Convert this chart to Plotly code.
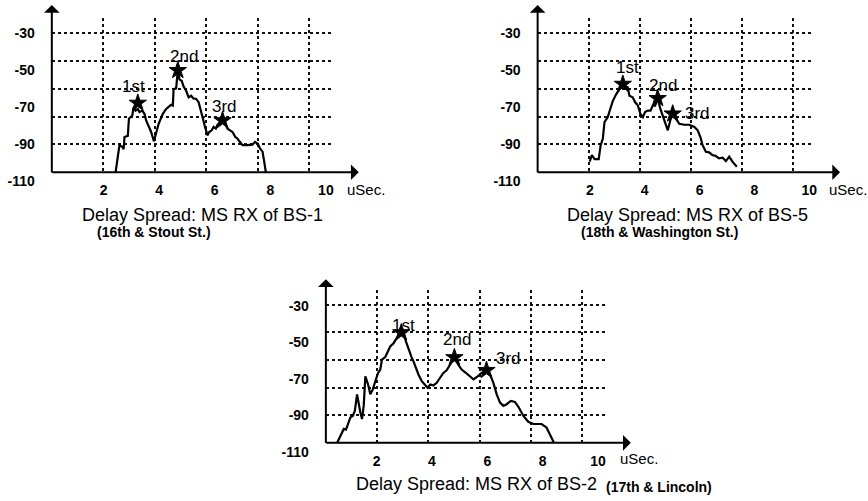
import plotly.graph_objects as go

W, H = 868, 501

# ---------------- data ----------------
x_ticks = [2, 4, 6, 8, 10]
y_ticks = [-30, -50, -70, -90, -110]
peak_names = ["1st", "2nd", "3rd"]

bs1_delay = [2.43, 2.48, 2.57, 2.67, 2.72, 2.75, 2.87, 2.91, 3.03, 3.08, 3.15, 3.23, 3.29, 3.39, 3.47,
             3.53, 3.63, 3.71, 3.81, 3.89, 3.98, 4.13, 4.25, 4.37, 4.43, 4.49, 4.52, 4.61, 4.64, 4.67,
             4.73, 4.81, 4.88, 4.97, 5.06, 5.15, 5.23, 5.33, 5.42, 5.49, 5.56, 5.65, 5.74, 5.80, 5.89,
             5.96, 6.04, 6.10, 6.19, 6.28, 6.38, 6.46, 6.55, 6.64, 6.74, 6.82, 6.90, 7.00, 7.18, 7.36,
             7.45, 7.54, 7.63, 7.72, 7.78, 7.84]
bs1_level = [-105.2, -99.5, -90.6, -91.5, -92.8, -86.2, -85.6, -76.4, -74.6, -70.2, -72.0, -71.1, -72.8,
             -72.0, -73.7, -77.3, -80.8, -83.5, -88.5, -83.5, -79.1, -73.7, -71.1, -69.6, -68.9, -69.3,
             -60.4, -60.0, -53.3, -50.3, -55.1, -56.0, -59.0, -61.3, -64.8, -64.0, -65.4, -65.7, -67.5,
             -71.1, -75.5, -80.8, -85.3, -83.5, -82.6, -80.8, -81.7, -79.6, -78.2, -77.3, -79.1, -81.7,
             -82.6, -83.5, -86.2, -87.1, -88.8, -90.6, -90.6, -90.3, -88.8, -89.7, -92.3, -94.1, -99.5,
             -105.2]
bs1_peak_delay = [3.23, 4.67, 6.28]
bs1_peak_level = [-67.9, -50.3, -77.3]

bs5_delay = [1.99, 2.07, 2.17, 2.32, 2.39, 2.47, 2.53, 2.65, 2.74, 2.84, 2.96, 3.08, 3.20, 3.28, 3.38,
             3.44, 3.56, 3.65, 3.75, 3.84, 3.93, 4.01, 4.11, 4.21, 4.29, 4.38, 4.47, 4.57, 4.65, 4.74,
             4.84, 4.93, 5.02, 5.14, 5.26, 5.44, 5.62, 5.81, 5.93, 6.03, 6.11, 6.23, 6.35, 6.47, 6.58,
             6.71, 6.84, 6.96, 7.08, 7.20, 7.36]
bs5_level = [-99.5, -96.0, -98.1, -98.1, -90.6, -87.1, -78.2, -75.5, -71.1, -66.6, -63.1, -60.0, -57.7,
             -59.0, -59.5, -64.0, -64.8, -67.5, -69.3, -73.7, -75.5, -72.8, -72.0, -72.0, -69.3, -69.3,
             -65.4, -71.1, -74.6, -77.3, -82.6, -77.3, -73.7, -76.4, -79.1, -79.6, -79.6, -80.8, -82.6,
             -86.2, -90.6, -94.2, -94.5, -96.0, -96.3, -97.7, -97.4, -99.2, -96.8, -99.5, -102.2]
bs5_peak_delay = [3.20, 4.47, 5.02]
bs5_peak_level = [-57.7, -65.4, -73.7]

bs2_delay = [0.57, 0.69, 0.81, 0.89, 0.97, 1.05, 1.14, 1.21, 1.29, 1.35, 1.41, 1.47, 1.53, 1.59, 1.69,
             1.77, 1.86, 1.95, 2.05, 2.13, 2.19, 2.31, 2.41, 2.49, 2.61, 2.73, 2.82, 2.89, 2.97, 3.06,
             3.15, 3.25, 3.33, 3.42, 3.51, 3.63, 3.75, 3.84, 3.94, 4.05, 4.17, 4.30, 4.41, 4.53, 4.66,
             4.81, 4.95, 5.07, 5.20, 5.34, 5.50, 5.65, 5.79, 5.98, 6.10, 6.22, 6.34, 6.46, 6.58, 6.70,
             6.85, 7.00, 7.14, 7.30, 7.48, 7.66, 7.96, 8.14, 8.26, 8.41]
bs2_level = [-104.9, -101.0, -97.3, -97.7, -93.8, -91.0, -90.1, -87.4, -78.4, -84.7, -88.3, -91.9, -84.7,
             -68.5, -73.0, -78.4, -75.7, -71.2, -66.7, -64.8, -59.4, -58.0, -54.9, -52.2, -50.4, -47.7,
             -45.3, -44.6, -45.0, -49.5, -54.0, -57.6, -60.3, -64.0, -67.5, -71.2, -73.5, -74.8, -73.0,
             -73.5, -72.1, -69.4, -66.7, -65.2, -62.1, -58.2, -62.1, -64.8, -66.3, -68.1, -70.2, -68.5,
             -66.7, -65.2, -67.5, -72.1, -78.4, -82.9, -84.7, -83.8, -82.0, -82.5, -85.6, -90.1, -93.4,
             -94.6, -94.6, -96.5, -100.0, -104.9]
bs2_peak_delay = [2.89, 4.81, 5.97]
bs2_peak_level = [-44.6, -58.2, -65.2]

captions = ["Delay Spread: MS RX of BS-1", "Delay Spread: MS RX of BS-5", "Delay Spread: MS RX of BS-2"]
subcaptions = ["(16th & Stout St.)", "(18th & Washington St.)", "(17th & Lincoln)"]
x_unit = "uSec."

series = [
    (bs1_delay, bs1_level, bs1_peak_delay, bs1_peak_level),
    (bs5_delay, bs5_level, bs5_peak_delay, bs5_peak_level),
    (bs2_delay, bs2_level, bs2_peak_delay, bs2_peak_level),
]

# ---------------- layout (pixel geometry of each panel) ----------------
PANELS = [
    dict(ox=52, oy=174, gsx=25.8, gsy=28.14, right=333, top=18, lx0=48.25, lsx=27.875,
         ly30=33, lsy=1.875, lbot=186, ax_end=360, ay_end=5,
         unit=(346, 191), cap=(203, 217, "center"), sub=(95, 234),
         shifts=[(-4, 17), (6, 14), (2, 14)]),
    dict(ox=539.5, oy=174, gsx=25.6, gsy=28.14, right=817, top=18, lx0=537, lsx=27.5,
         ly30=33, lsy=1.875, lbot=186, ax_end=843, ay_end=5,
         unit=(830, 191), cap=(690, 217, "center"), sub=(581, 234),
         shifts=[(5, 17), (5, 13), (25, 0)]),
    dict(ox=327, oy=447.3, gsx=25.7, gsy=27.92, right=610, top=293, lx0=322.5, lsx=27.75,
         ly30=309, lsy=1.846, lbot=460, ax_end=633, ay_end=282,
         unit=(620, 463), cap=(355, 489, "left"), sub=(606, 492),
         shifts=[(2, 7), (3, 18), (22, 12)]),
]

FONT = "Liberation Sans, Arial, Helvetica, sans-serif"


def fx(px):
    return px / W


def fy(py):
    return 1 - py / H


fig = go.Figure()
layout = dict(
    width=W, height=H, autosize=False,
    margin=dict(l=0, r=0, t=0, b=0),
    paper_bgcolor="white", plot_bgcolor="rgba(0,0,0,0)",
    showlegend=False,
    font=dict(family=FONT, color="black"),
)
annotations = []

for k, (p, (dx, dy, pkx, pky)) in enumerate(zip(PANELS, series)):
    g, l = 2 * k + 1, 2 * k + 2
    gname = "" if g == 1 else str(g)
    # grid axes (dotted gridlines only)
    layout["xaxis" + gname] = dict(
        domain=[fx(p["ox"]), fx(p["right"])],
        range=[0, (p["right"] - p["ox"]) / p["gsx"]],
        tickmode="array", tickvals=x_ticks, showticklabels=False, ticks="",
        showgrid=True, gridcolor="#111", griddash="dot", gridwidth=1.5,
        zeroline=False, showline=False, anchor="y" + gname, fixedrange=True,
    )
    layout["yaxis" + gname] = dict(
        domain=[fy(p["oy"]), fy(p["top"])],
        range=[0, (p["oy"] - p["top"]) / p["gsy"]],
        tickmode="array", tickvals=[1, 2, 3, 4, 5], showticklabels=False, ticks="",
        showgrid=True, gridcolor="#111", griddash="dot", gridwidth=1.5,
        zeroline=False, showline=False, anchor="x" + gname, fixedrange=True,
    )
    # data / label axes
    layout["xaxis" + str(l)] = dict(
        domain=[fx(p["ox"]), fx(p["right"])],
        range=[(p["ox"] - p["lx0"]) / p["lsx"], (p["right"] - p["lx0"]) / p["lsx"]],
        tickmode="array", tickvals=x_ticks, ticktext=[str(v) for v in x_ticks],
        ticks="", showgrid=False, zeroline=False,
        showline=False, anchor="free", position=fy(p["oy"]),
        tickfont=dict(size=14, family=FONT, weight="bold", color="black"),
        ticklabelstandoff=8, fixedrange=True,
    )
    layout["yaxis" + str(l)] = dict(
        domain=[fy(p["lbot"]), fy(p["top"])],
        range=[-30 - (p["lbot"] - p["ly30"]) / p["lsy"], -30 + (p["ly30"] - p["top"]) / p["lsy"]],
        tickmode="array", tickvals=y_ticks, ticktext=[str(v) for v in y_ticks],
        ticks="", showgrid=False, zeroline=False,
        showline=False, anchor="free", position=fx(p["ox"]),
        tickfont=dict(size=14, family=FONT, weight="bold", color="black"),
        ticklabelstandoff=17, fixedrange=True,
    )

    fig.add_trace(go.Scatter(x=[], y=[], xaxis="x" + gname, yaxis="y" + gname,
                             hoverinfo="skip"))
    fig.add_trace(go.Scatter(x=dx, y=dy, xaxis="x" + str(l), yaxis="y" + str(l),
                             mode="lines", line=dict(color="black", width=2.2)))
    fig.add_trace(go.Scatter(x=pkx, y=pky, xaxis="x" + str(l), yaxis="y" + str(l),
                             mode="markers", cliponaxis=False,
                             marker=dict(symbol="star", size=13, color="black",
                                         line=dict(color="black", width=1))))

    for name, xv, yv, (sx, sy) in zip(peak_names, pkx, pky, p["shifts"]):
        annotations.append(dict(x=xv, y=yv, xref="x" + str(l), yref="y" + str(l),
                                text=name, showarrow=False, xshift=sx, yshift=sy,
                                font=dict(size=17, family=FONT, color="black")))

    # axis lines with arrowheads
    annotations.append(dict(x=fx(p["ax_end"]), y=fy(p["oy"]), xref="paper", yref="paper",
                            ax=-(p["ax_end"] - p["ox"]), ay=0, text="", showarrow=True,
                            arrowhead=1, arrowsize=1.3, arrowwidth=2, arrowcolor="black",
                            standoff=0))
    annotations.append(dict(x=fx(p["ox"]), y=fy(p["ay_end"]), xref="paper", yref="paper",
                            ax=0, ay=(p["oy"] - p["ay_end"]), text="", showarrow=True,
                            arrowhead=1, arrowsize=1.3, arrowwidth=2, arrowcolor="black",
                            standoff=0))
    # unit label
    annotations.append(dict(x=fx(p["unit"][0]), y=fy(p["unit"][1]), xref="paper", yref="paper",
                            text=x_unit, showarrow=False, xanchor="left", yanchor="middle",
                            font=dict(size=15, family=FONT, color="black")))
    # captions
    cx, cy, anchor = p["cap"]
    annotations.append(dict(x=fx(cx), y=fy(cy), xref="paper", yref="paper",
                            text=captions[k], showarrow=False, xanchor=anchor, yanchor="middle",
                            font=dict(size=18, family=FONT, color="black")))
    annotations.append(dict(x=fx(p["sub"][0]), y=fy(p["sub"][1]), xref="paper", yref="paper",
                            text=subcaptions[k], showarrow=False, xanchor="left", yanchor="middle",
                            font=dict(size=14, family=FONT, color="black", weight="bold")))

layout["annotations"] = annotations
fig.update_layout(**layout)
fig.write_html(
    "out.html",
    config={"displayModeBar": False},
    post_script="document.body.style.margin='0px';"
                "document.documentElement.style.overflow='hidden';",
)
